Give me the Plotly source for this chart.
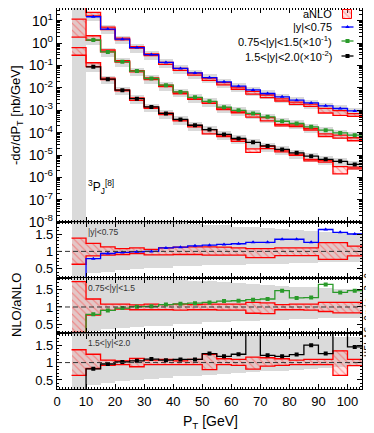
import plotly.graph_objects as go
from plotly.subplots import make_subplots

# P_T bins [GeV]
pt_edges = [5, 10, 15, 20, 25, 30, 35, 40, 45, 50, 55, 60, 65, 70, 75, 80, 85, 90, 95, 100, 105]
pt_mid = [7.5, 12.5, 17.5, 22.5, 27.5, 32.5, 37.5, 42.5, 47.5, 52.5, 57.5,
          62.5, 67.5, 72.5, 77.5, 82.5, 87.5, 92.5, 97.5, 102.5]
pt_ticks = [0, 10, 20, 30, 40, 50, 60, 70, 80, 90, 100]

# -dsigma/dPT [nb/GeV], unscaled (first NLO bin is negative -> not drawn on log axis)
nlo_y1 = [None, 15.1, 4.27, 1.51, 0.631, 0.309, 0.138, 0.0741, 0.0468, 0.0288, 0.0186,
          0.0120, 0.00813, 0.00562, 0.00398, 0.00282, 0.00214, 0.00158, 0.00120, 0.000933]
nlo_y2 = [None, 13.8, 4.07, 1.48, 0.562, 0.263, 0.132, 0.0661, 0.0380, 0.0251, 0.0138,
          0.0100, 0.00724, 0.00513, 0.00324, 0.00257, 0.00182, 0.00129, 0.000977, 0.000776]
nlo_y3 = [None, 8.71, 2.45, 0.794, 0.331, 0.141, 0.0724, 0.0389, 0.0214, 0.0138, 0.00832,
          0.0055, 0.00372, 0.00257, 0.00178, 0.00126, 0.000891, 0.000646, 0.000525, 0.00038]

anlo_y1 = [80, 19.1, 4.57, 1.55, 0.631, 0.309, 0.126, 0.0661, 0.0407, 0.0245, 0.0155,
           0.00977, 0.00646, 0.00447, 0.00295, 0.00209, 0.0017, 0.00098, 0.000776, 0.000617]
anlo_y2 = [69, 17.4, 4.57, 1.51, 0.562, 0.257, 0.123, 0.0603, 0.0339, 0.0224, 0.0117,
           0.00851, 0.00603, 0.00417, 0.00219, 0.00204, 0.00145, 0.000776, 0.000692, 0.000525]
anlo_y3 = [45.7, 10.7, 2.57, 0.776, 0.316, 0.129, 0.0676, 0.0355, 0.0195, 0.011, 0.00708,
           0.00447, 0.00162, 0.00214, 0.00151, 0.00102, 0.000589, 0.000513, 0.000229, 0.000263]

scales = [1, 0.1, 0.01]

# NLO scale band in the main panel, relative to NLO
top_band_lo = [None, 0.62, 0.6, 0.6, 0.58, 0.58, 0.57, 0.57, 0.56, 0.56, 0.56,
               0.55, 0.55, 0.55, 0.55, 0.55, 0.55, 0.55, 0.55, 0.55]
top_band_hi = [None, 1.5, 1.45, 1.45, 1.42, 1.42, 1.42, 1.4, 1.4, 1.4, 1.4,
               1.4, 1.4, 1.4, 1.4, 1.4, 1.4, 1.4, 1.4, 1.4]
first_bin_band = [1e-9, 1e3]

# NLO/aNLO ratios
ratio_y1 = [-0.5, 0.79, 0.94, 0.97, 0.99, 1.00, 1.10, 1.12, 1.16, 1.18, 1.20,
            1.22, 1.26, 1.26, 1.35, 1.35, 1.26, 1.63, 1.55, 1.50]
ratio_y2 = [-0.5, 0.79, 0.90, 0.97, 1.01, 1.02, 1.07, 1.09, 1.11, 1.13, 1.17,
            1.18, 1.21, 1.23, 1.47, 1.26, 1.27, 1.65, 1.42, 1.47]
ratio_y3 = [-0.5, 0.82, 0.96, 1.02, 1.05, 1.10, 1.07, 1.09, 1.09, 1.26, 1.18,
            1.24, 2.3, 1.21, 1.18, 1.23, 1.50, 1.26, 2.3, 1.45]

# aNLO band relative to aNLO central
anlo_hi_y1 = [1.38, 1.23, 1.13, 1.08, 1.10, 1.06, 1.10, 1.12, 1.13, 1.13, 1.12,
              1.10, 1.08, 1.08, 1.10, 1.10, 1.10, 1.25, 1.25, 1.15]
anlo_lo_y1 = [0.63, 0.87, 0.89, 0.91, 0.94, 0.90, 0.90, 0.91, 0.91, 0.89, 0.89,
              0.89, 0.82, 0.82, 0.88, 0.88, 0.88, 0.77, 0.77, 0.87]
anlo_hi_y2 = [1.73, 1.23, 1.08, 1.08, 1.06, 1.08, 1.07, 1.08, 1.07, 1.08, 1.08,
              1.08, 1.13, 1.12, 1.07, 1.08, 1.08, 1.13, 1.13, 1.13]
anlo_lo_y2 = [0.27, 0.77, 0.90, 0.94, 0.92, 0.92, 0.92, 0.91, 0.92, 0.92, 0.91,
              0.91, 0.82, 0.81, 0.92, 0.92, 0.91, 0.87, 0.83, 0.83]
anlo_hi_y3 = [1.37, 1.24, 1.07, 1.05, 1.12, 1.07, 1.09, 1.05, 1.09, 1.24, 1.11,
              1.09, 1.16, 1.14, 1.11, 1.07, 1.09, 1.09, 1.34, 1.09]
anlo_lo_y3 = [0.63, 0.83, 0.92, 0.94, 0.88, 0.94, 0.94, 0.94, 0.94, 0.80, 0.94,
              0.92, 0.81, 0.90, 0.92, 0.94, 0.94, 0.94, 0.63, 0.91]

# NLO scale band in the ratio panels
gray_lo_y1 = [-1, 0.37, 0.41, 0.46, 0.48, 0.51, 0.52, 0.56, 0.57, 0.59, 0.60,
              0.61, 0.62, 0.63, 0.64, 0.66, 0.67, 0.68, 0.69, 0.70]
gray_hi_y1 = [3, 2.3, 2.2, 2.1, 2.0, 1.95, 1.9, 1.85, 1.77, 1.76, 1.75,
              1.70, 1.69, 1.66, 1.64, 1.60, 1.57, 1.55, 1.53, 1.52]
gray_lo_y2 = [-1, 0.32, 0.37, 0.41, 0.42, 0.46, 0.47, 0.51, 0.52, 0.56, 0.57,
              0.60, 0.61, 0.62, 0.63, 0.65, 0.66, 0.68, 0.69, 0.70]
gray_hi_y2 = [3, 2.4, 2.2, 2.1, 2.0, 1.95, 1.9, 1.85, 1.76, 1.75, 1.73,
              1.69, 1.67, 1.64, 1.62, 1.58, 1.57, 1.55, 1.53, 1.52]
gray_lo_y3 = [-1, 0.35, 0.40, 0.47, 0.50, 0.52, 0.55, 0.59, 0.61, 0.64, 0.66,
              0.69, 0.71, 0.74, 0.76, 0.78, 0.80, 0.83, 0.86, 0.88]
gray_hi_y3 = [3, 2.4, 2.3, 2.2, 2.1, 2.0, 1.95, 1.9, 1.85, 1.82, 1.80,
              1.80, 1.78, 1.78, 1.76, 1.75, 1.74, 1.74, 1.73, 1.73]

log_ticks = [1e-8, 1e-7, 1e-6, 1e-5, 1e-4, 1e-3, 1e-2, 1e-1, 1, 10]
log_ticktext = ['10<sup>-8</sup>', '10<sup>-7</sup>', '10<sup>-6</sup>', '10<sup>-5</sup>',
                '10<sup>-4</sup>', '10<sup>-3</sup>', '10<sup>-2</sup>', '10<sup>-1</sup>',
                '10<sup>0</sup>', '10<sup>1</sup>']
ratio_ticks = [0.5, 1, 1.5]

series = [
    dict(nlo=nlo_y1, anlo=anlo_y1, ratio=ratio_y1, hi=anlo_hi_y1, lo=anlo_lo_y1,
         ghi=gray_hi_y1, glo=gray_lo_y1, color='#0000ff', symbol='triangle-up',
         tag='|y|<0.75', legend='|y|<0.75'),
    dict(nlo=nlo_y2, anlo=anlo_y2, ratio=ratio_y2, hi=anlo_hi_y2, lo=anlo_lo_y2,
         ghi=gray_hi_y2, glo=gray_lo_y2, color='#2a9a2a', symbol='square',
         tag='0.75<|y|<1.5', legend='0.75<|y|<1.5(\u00d710<sup>-1</sup>)'),
    dict(nlo=nlo_y3, anlo=anlo_y3, ratio=ratio_y3, hi=anlo_hi_y3, lo=anlo_lo_y3,
         ghi=gray_hi_y3, glo=gray_lo_y3, color='#000000', symbol='square',
         tag='1.5<|y|<2.0', legend='1.5<|y|<2.0(\u00d710<sup>-2</sup>)'),
]

RED = '#ff0000'
GRAY = 'rgb(218,218,218)'
FONT = 'Liberation Sans, Arial, sans-serif'

# the page puts the figure 8px in from the top-left corner of the window
OFF = 8
W, H = 374 - OFF, 433 - OFF
ML, MR, MT, MB = 49, 12, 0, 44
PW, PH = W - ML - MR, H - MT - MB


def px_x(px):
    # window pixel -> paper fraction
    return (px - OFF - ML) / PW


def px_y(py):
    return (H - MB - (py - OFF)) / PH


def steps(vals):
    return list(vals) + [vals[-1]]


def hatch_bar(x, base, height):
    return go.Bar(x=x, y=height, base=base, width=5, showlegend=False,
                  marker=dict(color='rgba(255,140,140,0.25)', line=dict(width=0),
                              pattern=dict(shape='\\', fgcolor='rgba(255,40,40,0.8)',
                                           size=5, solidity=0.22, fillmode='overlay')))


fig = make_subplots(rows=4, cols=1, shared_xaxes=True, vertical_spacing=0,
                    row_heights=[214.2, 55.6, 55.6, 55.6])

# ---------- main panel ----------
fig.add_trace(go.Bar(x=[pt_mid[0]], base=[first_bin_band[0]],
                     y=[first_bin_band[1] - first_bin_band[0]], width=5,
                     marker=dict(color=GRAY, line=dict(width=0)), showlegend=False), row=1, col=1)

for s, sc in zip(series, scales):
    xs, bs, hs = [], [], []
    for i in range(1, len(pt_mid)):
        v = s['nlo'][i] * sc
        xs.append(pt_mid[i])
        bs.append(v * top_band_lo[i])
        hs.append(v * (top_band_hi[i] - top_band_lo[i]))
    fig.add_trace(go.Bar(x=xs, base=bs, y=hs, width=5, showlegend=False,
                         marker=dict(color=GRAY, line=dict(width=0))), row=1, col=1)

for s, sc in zip(series, scales):
    up = [a * h * sc for a, h in zip(s['anlo'], s['hi'])]
    dn = [a * l * sc for a, l in zip(s['anlo'], s['lo'])]
    fig.add_trace(hatch_bar(pt_mid, dn, [u - d for u, d in zip(up, dn)]), row=1, col=1)
    for edge in (up, dn):
        fig.add_trace(go.Scatter(x=pt_edges, y=steps(edge), mode='lines', line_shape='hv',
                                 line=dict(color=RED, width=1.3), showlegend=False), row=1, col=1)

for s, sc in zip(series, scales):
    v = [None if n is None else n * sc for n in s['nlo']]
    fig.add_trace(go.Scatter(x=pt_edges, y=steps(v), mode='lines', line_shape='hv',
                             line=dict(color=s['color'], width=1.3), showlegend=False),
                  row=1, col=1)
    fig.add_trace(go.Scatter(x=pt_mid, y=v, mode='markers', showlegend=False,
                             marker=dict(color=s['color'], symbol=s['symbol'], size=4)),
                  row=1, col=1)

# ---------- ratio panels ----------
for k, s in enumerate(series):
    r = k + 2
    fig.add_trace(go.Bar(x=pt_mid, base=s['glo'], y=[h - l for h, l in zip(s['ghi'], s['glo'])],
                         width=5, marker=dict(color=GRAY, line=dict(width=0)),
                         showlegend=False), row=r, col=1)
    fig.add_trace(hatch_bar(pt_mid, s['lo'], [h - l for h, l in zip(s['hi'], s['lo'])]),
                  row=r, col=1)
    for edge in (s['hi'], s['lo']):
        fig.add_trace(go.Scatter(x=pt_edges, y=steps(edge), mode='lines', line_shape='hv',
                                 line=dict(color=RED, width=1.3), showlegend=False), row=r, col=1)
    fig.add_trace(go.Scatter(x=pt_edges, y=steps(s['ratio']), mode='lines', line_shape='hv',
                             line=dict(color=s['color'], width=1.3), showlegend=False),
                  row=r, col=1)
    fig.add_trace(go.Scatter(x=pt_mid, y=s['ratio'], mode='markers', showlegend=False,
                             marker=dict(color=s['color'], symbol=s['symbol'], size=4)),
                  row=r, col=1)
    fig.add_hline(y=1, row=r, col=1, layer='above',
                  line=dict(color='#333333', width=1, dash='5px,3px'))

axis_common = dict(showline=True, linecolor='black', linewidth=1.3, mirror='allticks',
                   ticks='inside', ticklen=5, tickcolor='black', tickwidth=1,
                   showgrid=False, zeroline=False)

for r in range(1, 5):
    fig.update_xaxes(range=[0, 105], tickvals=pt_ticks,
                     minor=dict(ticks='inside', ticklen=2, dtick=1, tickcolor='black',
                                tickwidth=0.6),
                     tickfont=dict(size=13), **axis_common, row=r, col=1)
fig.update_yaxes(type='log', range=[-8, 1.57], tickvals=log_ticks, ticktext=log_ticktext,
                 minor=dict(ticks='inside', ticklen=3, dtick='D1', tickcolor='black',
                            tickwidth=0.6),
                 tickfont=dict(size=14), **axis_common, row=1, col=1)
for r in range(2, 5):
    fig.update_yaxes(range=[0.24, 1.84], tickvals=ratio_ticks, ticktext=['0.5', '1', '1.5'],
                     minor=dict(ticks='inside', ticklen=2, dtick=0.1, tickcolor='black',
                                tickwidth=0.6),
                     tickfont=dict(size=13), **axis_common, row=r, col=1)

# window-pixel overlay (same box as the plot area) for the legend keys
fig.update_layout(
    xaxis5=dict(domain=[0, 1], anchor='y5', range=[OFF + ML, OFF + W - MR], visible=False),
    yaxis5=dict(domain=[0, 1], anchor='x5', range=[OFF + H - MB, OFF + MT], visible=False),
)
fig.add_trace(go.Bar(x=[347.5], base=[18.5], y=[-9], width=[8.5], xaxis='x5', yaxis='y5',
                     showlegend=False,
                     marker=dict(color='rgba(255,140,140,0.25)', line=dict(color=RED, width=1),
                                 pattern=dict(shape='\\', fgcolor='rgba(255,40,40,0.9)',
                                              size=4, solidity=0.25, fillmode='overlay'))))
legend_rows = [27, 41, 56]
annotations = [dict(text='aNLO', x=px_x(334), y=px_y(14))]
for s, ly in zip(series, legend_rows):
    fig.add_trace(go.Scatter(x=[341.5, 347.5, 353.5], y=[ly, ly, ly], mode='lines',
                             xaxis='x5', yaxis='y5', showlegend=False,
                             line=dict(color=s['color'], width=1.3)))
    fig.add_trace(go.Scatter(x=[347.5], y=[ly], mode='markers', xaxis='x5', yaxis='y5',
                             showlegend=False,
                             marker=dict(color=s['color'], symbol=s['symbol'], size=4)))
    annotations.append(dict(text=s['legend'], x=px_x(334), y=px_y(ly)))
for a in annotations:
    a.update(xref='paper', yref='paper', xanchor='right', yanchor='middle',
             showarrow=False, font=dict(size=11))

for s, ly in zip(series, [232, 287.5, 343]):
    annotations.append(dict(text=s['tag'], x=px_x(86), y=px_y(ly), xref='paper', yref='paper',
                            xanchor='left', yanchor='middle', showarrow=False,
                            font=dict(size=8.5, color='#333333')))

extra = [
    dict(text='<sup>3</sup>P<sub>J</sub><sup>[8]</sup>', x=px_x(86), y=px_y(187),
         xanchor='left', font=dict(size=12)),
    dict(text='-d\u03c3/dP<sub>T</sub> [nb/GeV]', x=px_x(16), y=px_y(115), textangle=-90,
         font=dict(size=13)),
    dict(text='NLO/aNLO', x=px_x(16), y=px_y(305), textangle=-90, font=dict(size=13)),
    dict(text='P<sub>T</sub> [GeV]', x=px_x(210), y=px_y(422), font=dict(size=14)),
    dict(text='HELAC-Onia 2.0', x=px_x(368), y=px_y(315), textangle=-90,
         font=dict(size=10, family='DejaVu Sans Mono', color='#222222')),
]
for a in extra:
    a.update(xref='paper', yref='paper', yanchor='middle', showarrow=False)
    a.setdefault('xanchor', 'center')
annotations += extra

fig.update_layout(
    width=W, height=H, margin=dict(l=ML, r=MR, t=MT, b=MB, pad=0),
    paper_bgcolor='white', plot_bgcolor='rgba(0,0,0,0)',
    barmode='overlay', bargap=0, showlegend=False,
    font=dict(family=FONT, color='black', size=13),
    annotations=annotations,
)

fig.write_html("out.html")
